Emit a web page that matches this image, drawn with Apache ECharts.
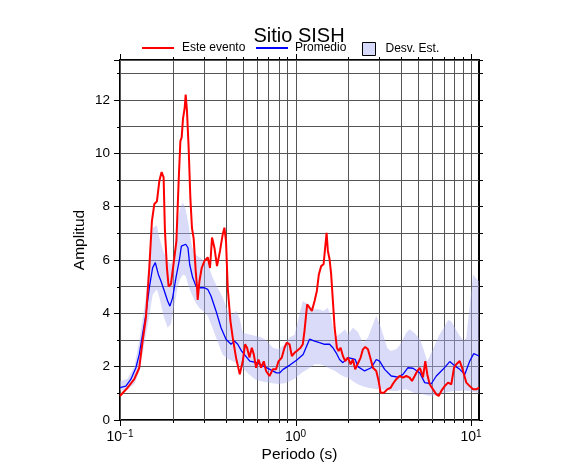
<!DOCTYPE html>
<html><head><meta charset="utf-8">
<script src="https://cdn.jsdelivr.net/npm/echarts@6/dist/echarts.min.js"></script>
<style>html,body{margin:0;padding:0;background:#fff}#c{width:586px;height:475px}</style>
</head><body><div id="c"></div>
<script>
// ---- data ----
const redPeriods = [0.1,0.1048,0.1105,0.1206,0.1288,0.1345,0.1405,0.1469,0.1520,0.1569,0.1623,0.1675,0.1726,0.1772,0.1803,0.1851,0.1893,0.1951,0.2041,0.2095,0.2159,0.2208,0.2246,0.2285,0.2336,0.2367,0.2407,0.2461,0.2518,0.2571,0.2629,0.2699,0.2745,0.2771,0.2834,0.2920,0.3026,0.3160,0.3257,0.3344,0.3451,0.3570,0.3713,0.3847,0.3934,0.4018,0.4109,0.4258,0.4388,0.4582,0.4812,0.5004,0.5159,0.5296,0.5466,0.5634,0.5784,0.5961,0.6152,0.6365,0.6594,0.6796,0.7106,0.7421,0.7750,0.7998,0.8352,0.8654,0.8921,0.9243,0.9526,0.9870,1.021,1.068,1.100,1.125,1.165,1.202,1.239,1.284,1.323,1.358,1.400,1.445,1.475,1.503,1.529,1.563,1.596,1.633,1.670,1.720,1.759,1.806,1.862,1.919,1.988,2.060,2.123,2.188,2.267,2.349,2.421,2.495,2.585,2.665,2.761,2.884,2.976,3.055,3.190,3.332,3.483,3.590,3.750,3.920,4.094,4.276,4.471,4.608,4.774,4.940,5.118,5.324,5.487,5.633,5.814,6.072,6.341,6.544,6.771,7.079,7.393,7.721,8.000,8.246,8.622,8.887,9.122,9.404,9.833,10.27,10.72,11.11];
const redAmps = [0.9,1.05,1.21,1.53,1.96,2.96,3.84,5.71,7.46,8.1,8.2,8.96,9.3,9.1,7.1,5.7,5.0,5.1,6.1,6.7,8.96,10.46,10.6,11.3,11.7,12.2,11.6,10.2,8.3,7.2,6.8,5.6,5.0,4.5,5.2,5.7,5.96,6.1,5.7,6.84,6.46,5.77,6.34,6.96,7.21,6.7,4.96,3.71,3.09,2.34,1.71,2.2,2.84,2.71,2.34,2.71,2.46,1.96,2.27,1.96,2.2,1.84,1.65,1.9,1.9,2.2,2.34,2.71,2.9,2.84,2.4,2.52,2.6,2.71,2.84,3.34,4.34,4.21,4.09,4.46,4.84,5.46,5.77,5.84,6.46,7.02,6.34,6.03,5.46,4.46,3.46,2.71,2.59,2.71,2.4,2.21,2.34,2.09,2.27,1.9,2.12,2.34,2.65,2.74,2.65,2.34,1.96,1.84,1.46,1.02,1.02,1.15,1.21,1.36,1.53,1.65,1.59,1.65,1.59,1.46,1.65,1.84,1.95,1.6,2.21,1.71,1.34,1.15,0.96,0.9,1.09,1.27,1.4,1.34,1.96,2.09,2.21,1.96,1.71,1.4,1.27,1.15,1.15,1.21];

const bluePeriods = [0.1,0.1080,0.1154,0.1232,0.1288,0.1345,0.1405,0.1469,0.1534,0.1589,0.1654,0.1711,0.1789,0.1868,0.1925,0.1995,0.2084,0.2179,0.2237,0.2275,0.2367,0.2439,0.2494,0.2594,0.2709,0.2834,0.3026,0.3160,0.3300,0.3524,0.3763,0.4018,0.4291,0.4487,0.4687,0.4920,0.5487,0.5992,0.6533,0.7134,0.7790,0.8135,0.8499,0.9243,1.013,1.105,1.202,1.284,1.370,1.464,1.563,1.633,1.704,1.782,1.862,1.988,2.188,2.267,2.475,2.700,2.884,3.015,3.219,3.511,3.833,4.094,4.372,4.669,5.098,5.444,5.938,6.341,6.924,7.561,8.074,8.622,9.207,9.833,10.36,11.11];
const blueAmps = [1.21,1.27,1.53,1.96,2.46,3.21,3.96,4.96,5.71,5.9,5.46,5.21,4.84,4.46,4.27,4.59,5.34,6.0,6.52,6.59,6.59,6.46,5.84,5.34,5.02,4.96,4.96,4.9,4.65,4.09,3.46,3.03,2.84,2.96,2.84,2.59,2.21,2.15,2.03,1.9,1.77,1.77,1.9,2.05,2.24,2.46,3.03,2.96,2.9,2.84,2.84,2.71,2.52,2.27,2.15,2.34,2.27,2.0,1.84,1.96,2.27,2.21,1.9,1.65,1.61,1.71,1.96,1.94,1.77,1.4,1.36,1.65,1.9,2.19,2.03,1.9,1.71,2.21,2.49,2.4];

const bandPeriods = [0.1,0.1105,0.1206,0.1288,0.1345,0.1405,0.1469,0.1534,0.1623,0.1675,0.1772,0.1868,0.1951,0.2041,0.2131,0.2208,0.2285,0.2367,0.2461,0.2571,0.2699,0.2834,0.3026,0.3160,0.3344,0.3570,0.3847,0.4109,0.4388,0.4582,0.4812,0.5004,0.5466,0.5961,0.6365,0.6796,0.7421,0.7998,0.8654,0.9243,0.9870,1.021,1.100,1.202,1.284,1.358,1.445,1.529,1.596,1.670,1.806,1.919,1.988,2.123,2.267,2.421,2.585,2.761,2.884,3.055,3.332,3.483,3.750,3.920,4.276,4.471,4.774,5.118,5.324,5.633,6.072,6.544,7.079,7.393,7.721,8.000,8.622,9.122,9.404,9.833,10.27,10.72,11.11];
const bandUpper = [1.45,1.55,2.0,2.96,3.8,4.6,6.3,7.2,7.3,6.84,6.3,5.96,5.84,6.2,7.5,8.0,8.15,7.9,7.3,6.5,6.2,6.1,5.96,5.9,5.4,5.0,4.6,4.1,3.96,4.1,3.8,3.27,3.21,3.15,3.1,3.0,2.71,2.65,2.84,3.09,3.2,3.6,4.46,4.3,4.15,4.15,4.09,4.21,3.84,3.09,3.25,3.4,3.21,3.46,3.3,2.9,3.09,3.59,3.9,3.5,2.7,2.59,2.65,2.8,3.27,3.4,3.25,3.03,2.71,2.2,2.65,3.15,3.52,3.75,3.7,3.52,3.15,2.96,3.1,4.3,5.46,5.3,5.21];
const bandLower = [1.1,1.15,1.35,1.8,2.5,3.2,3.9,4.7,4.9,4.6,3.9,3.46,3.6,4.3,5.0,5.3,5.46,5.4,5.0,4.7,4.4,4.2,4.05,3.9,3.5,3.0,2.45,2.3,2.2,2.15,2.03,1.95,1.7,1.5,1.45,1.42,1.38,1.35,1.38,1.45,1.55,1.62,1.8,1.95,2.09,2.09,2.05,1.96,1.9,1.85,1.7,1.6,1.59,1.45,1.34,1.27,1.21,1.18,1.15,1.15,1.12,1.09,1.09,1.12,1.15,1.1,1.0,1.0,0.97,0.92,0.9,0.98,1.02,1.05,1.07,1.09,1.09,1.12,1.1,1.08,1.05,1.03,1.02];

const xGridValues = [0.1,0.2,0.3,0.4,0.5,0.6,0.7,0.8,0.9,1,2,3,4,5,6,7,8,9,10];
const xTickExponents = [-1, 0, 1];
const yTickLabels = [0, 2, 4, 6, 8, 10, 12];
const yMinorTicks = [1, 3, 5, 7, 9, 11, 13];

// ---- chart ----
const FONT = '"Liberation Sans", Arial, Helvetica, sans-serif';
const zip = (a, b) => a.map((v, i) => [v, b[i]]);
const isDecade = v => Math.abs(Math.log10(v) - Math.round(Math.log10(v))) < 1e-6;

const chart = echarts.init(document.getElementById('c'), null, {renderer: 'canvas'});
const option = {
  animation: false,
  backgroundColor: '#fff',
  textStyle: {fontFamily: FONT, color: '#000'},
  graphic: [{
    type: 'text', x: 299, y: 26, z: 100,
    style: {text: 'Sitio SISH', textAlign: 'center', textVerticalAlign: 'top', fontSize: 20, fontFamily: FONT, fill: '#000'}
  }],
  legend: [
    {data: [{name: 'Este evento', icon: 'rect', itemStyle: {color: '#ff0000'}}], left: 142, top: 42, padding: 0,
     itemWidth: 32, itemHeight: 2, textStyle: {fontSize: 12, fontFamily: FONT, color: '#000', padding: [0, 0, 0, 3]}, selectedMode: false},
    {data: [{name: 'Promedio', icon: 'rect', itemStyle: {color: '#0000ff'}}], left: 256, top: 42, padding: 0,
     itemWidth: 32, itemHeight: 2, textStyle: {fontSize: 12, fontFamily: FONT, color: '#000', padding: [0, 0, 0, 2]}, selectedMode: false},
    {data: [{name: 'Desv. Est.', icon: 'rect', itemStyle: {color: 'rgb(215,218,250)', borderColor: '#000', borderWidth: 1}}], left: 362, top: 42, padding: 0,
     itemWidth: 13, itemHeight: 13, textStyle: {fontSize: 12, fontFamily: FONT, color: '#000', padding: [0, 0, 0, 5]}, selectedMode: false}
  ],
  grid: {left: 120, right: 107, top: 60, bottom: 55, show: true, borderColor: '#000', borderWidth: 2, backgroundColor: 'transparent'},
  xAxis: [{
    type: 'log', logBase: 10, min: 0.1, max: 11.1, position: 'bottom',
    axisLine: {show: false}, axisTick: {show: false}, splitLine: {show: false},
    name: 'Periodo (s)', nameLocation: 'middle', nameGap: 27, nameMoveOverlap: false,
    nameTextStyle: {fontSize: 15.5, fontFamily: FONT, color: '#000'},
    axisLabel: {
      margin: 9, color: '#000',
      formatter: v => {
        if (!isDecade(v)) return '';
        const e = Math.round(Math.log10(v));
        if (xTickExponents.indexOf(e) < 0) return '';
        return '{b|10}{s|' + (e < 0 ? '\u2212' + (-e) : e) + '}';
      },
      rich: {
        b: {fontSize: 14, fontFamily: FONT, color: '#000', lineHeight: 16},
        s: {fontSize: 10, fontFamily: FONT, color: '#000', verticalAlign: 'top', lineHeight: 10}
      }
    }
  }],
  yAxis: [{
    type: 'value', min: 0, max: 13.5, interval: 2, position: 'left',
    axisLine: {show: false}, axisTick: {show: true, length: 6, lineStyle: {color: '#000', width: 1}},
    splitLine: {show: false},
    axisLabel: {margin: 10, fontSize: 13.5, fontFamily: FONT, color: '#000',
      formatter: v => (yTickLabels.indexOf(v) >= 0 ? String(v) : '')},
    name: 'Amplitud', nameLocation: 'middle', nameGap: 32, nameMoveOverlap: false,
    nameTextStyle: {fontSize: 15.5, fontFamily: FONT, color: '#000'}
  }, {
    type: 'value', min: 0, max: 13.5, interval: 1, position: 'right',
    axisLine: {show: false}, axisTick: {show: true, length: 4, lineStyle: {color: '#000', width: 1}},
    axisLabel: {show: false},
    splitLine: {show: true, lineStyle: {color: '#555', width: 1}}
  }],
  series: [
    {
      type: 'custom', name: 'xgrid', z: 1, silent: true, clip: false,
      data: xGridValues.map(v => [v, 0]),
      encode: {x: 0, y: 1},
      renderItem: (params, api) => {
        const v = api.value(0);
        const cs = params.coordSys;
        const x = Math.round(api.coord([v, 0])[0]) + 0.5;
        const tl = isDecade(v) ? 6 : 3;
        const top = cs.y, bot = cs.y + cs.height;
        return {type: 'group', children: [
          {type: 'line', shape: {x1: x, y1: top, x2: x, y2: bot}, style: {stroke: '#555', lineWidth: 1}},
          {type: 'line', shape: {x1: x, y1: top - tl, x2: x, y2: top}, style: {stroke: '#000', lineWidth: 1}},
          {type: 'line', shape: {x1: x, y1: bot, x2: x, y2: bot + tl}, style: {stroke: '#000', lineWidth: 1}}
        ]};
      }
    },
    {
      type: 'custom', name: 'yminor', z: 1, silent: true, clip: false,
      data: yMinorTicks.map(v => [0.1, v]),
      encode: {x: 0, y: 1},
      renderItem: (params, api) => {
        const cs = params.coordSys;
        const y = Math.round(api.coord([0.1, api.value(1)])[1]) + 0.5;
        return {type: 'line', shape: {x1: cs.x - 3, y1: y, x2: cs.x, y2: y}, style: {stroke: '#000', lineWidth: 1}};
      }
    },
    {
      type: 'custom', name: 'Desv. Est.', z: 2, silent: true, clip: true,
      data: [[bandPeriods[0], bandLower[0]]],
      encode: {x: 0, y: 1},
      itemStyle: {color: 'rgb(215,218,250)'},
      renderItem: (params, api) => {
        const up = bandPeriods.map((p, i) => api.coord([p, bandUpper[i]]));
        const lo = bandPeriods.map((p, i) => api.coord([p, bandLower[i]])).reverse();
        return {type: 'polygon', shape: {points: up.concat(lo)}, style: {fill: 'rgba(170,175,240,0.45)', stroke: null}};
      }
    },
    {
      type: 'line', name: 'Promedio', z: 3, data: zip(bluePeriods, blueAmps),
      symbol: 'none', showSymbol: false, itemStyle: {color: '#0000ff'},
      lineStyle: {color: '#0000ff', width: 1.3}
    },
    {
      type: 'line', name: 'Este evento', z: 4, data: zip(redPeriods, redAmps),
      symbol: 'none', showSymbol: false, itemStyle: {color: '#ff0000'},
      lineStyle: {color: '#ff0000', width: 2}
    }
  ]
};
chart.setOption(option);
</script>
</body></html>
